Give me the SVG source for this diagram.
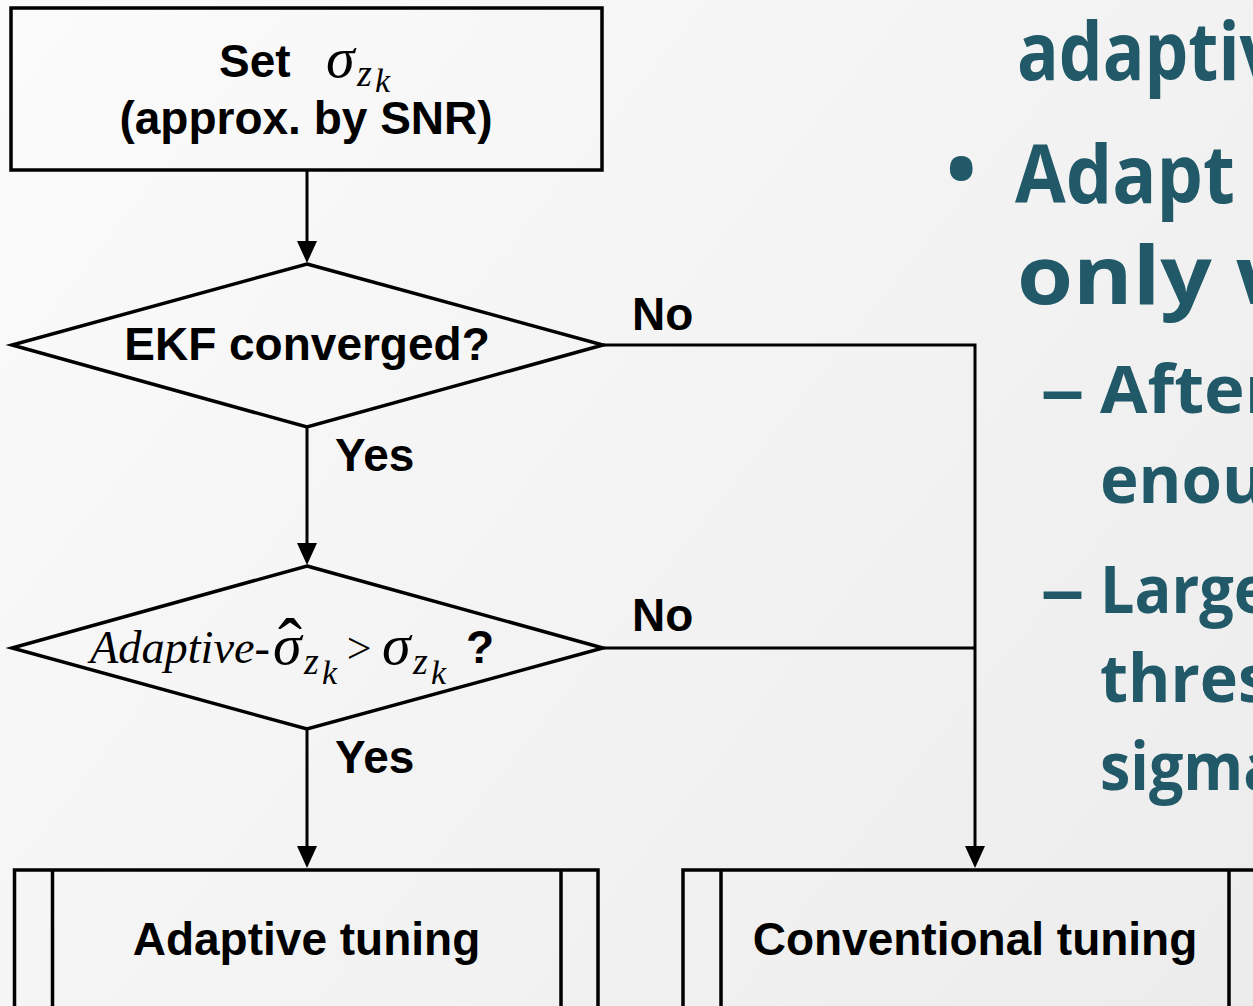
<svg xmlns="http://www.w3.org/2000/svg" width="1253" height="1006" viewBox="0 0 1253 1006">
  <defs>
    <linearGradient id="bg" x1="0" y1="0" x2="1253" y2="1006" gradientUnits="userSpaceOnUse">
      <stop offset="0" stop-color="#fbfbfb"/>
      <stop offset="1" stop-color="#ececec"/>
    </linearGradient>
    <marker id="arrow" viewBox="0 0 22 20" refX="14" refY="10" markerWidth="22" markerHeight="20" markerUnits="userSpaceOnUse" orient="auto">
      <path d="M0,0 L22,10 L0,20 z" fill="#000"/>
    </marker>
  </defs>
  <style>
    .shape { fill: none; stroke: #000; stroke-width: 3.5; stroke-linejoin: miter; }
    .conn { fill: none; stroke: #000; stroke-width: 3; }
    .lbl { font-family: "Liberation Sans", Arial, sans-serif; font-weight: bold; font-size: 46px; fill: #000; }
    .math { font-family: "Liberation Serif", "Times New Roman", serif; font-style: italic; fill: #000; }
    .slide { font-family: "Open Sans", "Noto Sans", sans-serif; font-weight: bold; fill: #215968; }
  </style>
  <rect x="0" y="0" width="1253" height="1006" fill="url(#bg)"/>

  <g id="connectors">
    <path class="conn" d="M307,170 L307,255" marker-end="url(#arrow)"/>
    <path class="conn" d="M307,427 L307,557" marker-end="url(#arrow)"/>
    <path class="conn" d="M307,729 L307,860" marker-end="url(#arrow)"/>
    <path class="conn" d="M603,345 L975,345 L975,860" marker-end="url(#arrow)"/>
    <path class="conn" d="M603,648 L975,648"/>
    <text class="lbl" x="632" y="330">No</text>
    <text class="lbl" x="632" y="631">No</text>
    <text class="lbl" x="335" y="471">Yes</text>
    <text class="lbl" x="335" y="773">Yes</text>
  </g>

  <g id="set-sigma">
    <rect class="shape" x="11" y="8" width="591" height="162"/>
    <text class="lbl" x="219" y="77">Set</text>
    <text class="math"><tspan x="326" y="77" font-size="58">σ</tspan><tspan x="357" y="86" font-size="38">z</tspan><tspan x="375" y="92" font-size="34">k</tspan></text>
    <text class="lbl" x="306" y="134" text-anchor="middle">(approx. by SNR)</text>
  </g>

  <g id="ekf-converged">
    <path class="shape" d="M307,264 L603,345 L307,427 L12,345 Z"/>
    <text class="lbl" x="307" y="360" text-anchor="middle">EKF converged?</text>
  </g>

  <g id="adaptive-check">
    <path class="shape" d="M307,566 L603,648 L307,729 L12,648 Z"/>
    <text class="math"><tspan x="90" y="663" font-size="46" textLength="180" lengthAdjust="spacingAndGlyphs">Adaptive-</tspan><tspan x="273" y="664" font-size="58">σ</tspan><tspan x="278" y="668" font-size="72" font-style="normal">ˆ</tspan><tspan x="304" y="674" font-size="38">z</tspan><tspan x="322" y="684" font-size="34">k</tspan><tspan x="344" y="663" font-size="44">&gt;</tspan><tspan x="382" y="664" font-size="58">σ</tspan><tspan x="413" y="674" font-size="38">z</tspan><tspan x="431" y="684" font-size="34">k</tspan></text>
    <text class="lbl" x="466" y="663">?</text>
  </g>

  <g id="adaptive-tuning">
    <rect class="shape" x="14.5" y="870" width="583.5" height="162"/>
    <line class="shape" x1="52.5" y1="870" x2="52.5" y2="1032"/>
    <line class="shape" x1="561" y1="870" x2="561" y2="1032"/>
    <text class="lbl" x="306.5" y="955" text-anchor="middle">Adaptive tuning</text>
  </g>

  <g id="conventional-tuning">
    <rect class="shape" x="683" y="870" width="584" height="162"/>
    <line class="shape" x1="721" y1="870" x2="721" y2="1032"/>
    <line class="shape" x1="1229" y1="870" x2="1229" y2="1032"/>
    <text class="lbl" x="975" y="955" text-anchor="middle">Conventional tuning</text>
  </g>

  <g id="slide-text">
    <text class="slide" x="1017" y="80" font-size="81" textLength="262" lengthAdjust="spacingAndGlyphs">adaptiv</text>
    <text class="slide" x="946" y="198" font-size="81">•</text>
    <text class="slide" x="1015" y="203" font-size="81" textLength="220" lengthAdjust="spacingAndGlyphs">Adapt</text>
    <text class="slide" x="1017" y="304" font-size="81" textLength="296" lengthAdjust="spacingAndGlyphs">only w</text>
    <text class="slide" x="1040" y="413" font-size="67" textLength="45" lengthAdjust="spacingAndGlyphs">–</text>
    <text class="slide" x="1100" y="413" font-size="67" textLength="176" lengthAdjust="spacingAndGlyphs">After</text>
    <text class="slide" x="1100" y="503" font-size="67" textLength="165" lengthAdjust="spacingAndGlyphs">enou</text>
    <text class="slide" x="1040" y="613" font-size="67" textLength="45" lengthAdjust="spacingAndGlyphs">–</text>
    <text class="slide" x="1100" y="613" font-size="67" textLength="170" lengthAdjust="spacingAndGlyphs">Large</text>
    <text class="slide" x="1100" y="702" font-size="67" textLength="170" lengthAdjust="spacingAndGlyphs">thres</text>
    <text class="slide" x="1100" y="790" font-size="67" textLength="180" lengthAdjust="spacingAndGlyphs">sigma</text>
  </g>
</svg>
